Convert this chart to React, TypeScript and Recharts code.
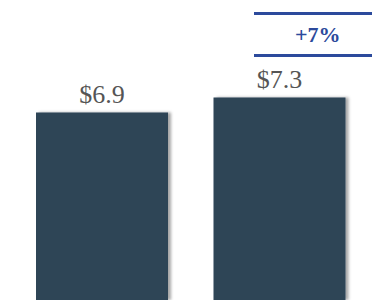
import React from 'react';
import { BarChart, Bar, XAxis, YAxis, LabelList } from 'recharts';

const categories = ['Before', 'After'];
const values = [6.9, 7.3];
const valueLabels = ['$6.9', '$7.3'];
const changeLabel = '+7%';

const BAR_COLOR = '#2e4456';
const ACCENT = '#2c4a9c';

const data = categories.map((name, i) => ({ name, value: values[i], label: valueLabels[i] }));

const ShadowBar = (props: any) => {
  const { x, y, width, height } = props;
  return <rect x={x} y={y} width={width} height={height} fill={BAR_COLOR} filter="url(#barShadow)" />;
};

export default function App() {
  return (
    <div style={{ position: 'fixed', left: 0, top: 0, width: 372, height: 300, background: '#fff', overflow: 'hidden' }}>
      <BarChart
        width={372}
        height={300}
        data={data}
        margin={{ top: 0, right: 4, left: 13, bottom: 0 }}
        barCategoryGap={0}
      >
        <defs>
          <filter id="barShadow" x="-10%" y="-10%" width="130%" height="130%">
            <feDropShadow dx="3" dy="0" stdDeviation="1.5" floodColor="#000" floodOpacity="0.35" />
          </filter>
        </defs>
        <XAxis dataKey="name" hide />
        <YAxis hide domain={[1.9, 9.9]} />
        <Bar dataKey="value" barSize={132} shape={ShadowBar} isAnimationActive={false}>
          <LabelList
            dataKey="label"
            position="top"
            offset={10}
            style={{ fill: '#555', fontFamily: "'Liberation Serif', serif", fontSize: 26 }}
          />
        </Bar>
      </BarChart>
      {/* change callout between two rules */}
      <div
        style={{
          position: 'absolute',
          left: 254,
          top: 12,
          width: 128,
          height: 39,
          borderTop: `3px solid ${ACCENT}`,
          borderBottom: `3px solid ${ACCENT}`,
          color: ACCENT,
          fontFamily: "'Liberation Serif', serif",
          fontWeight: 'bold',
          fontSize: 22,
          lineHeight: '39px',
          boxSizing: 'content-box',
        }}
      >
        <span style={{ position: 'absolute', left: 41, top: 0 }}>{changeLabel}</span>
      </div>
    </div>
  );
}
